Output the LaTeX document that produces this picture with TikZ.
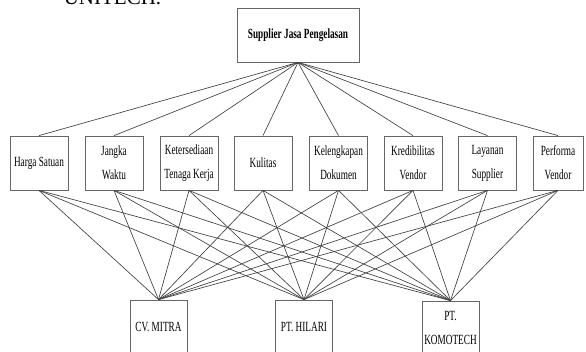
\documentclass[tikz,border=0pt]{standalone}
\usepackage{fontspec}
\setmainfont{Liberation Serif}
\newfontfamily\condfont[FakeStretch=0.66]{Liberation Serif}
\begin{document}
\begin{tikzpicture}[x=1pt,y=-1pt,
  box/.style={draw=black!60, line width=0.8pt, fill=white, align=center,
    inner sep=1pt, minimum height=54pt, minimum width=58pt,
    font=\condfont\fontsize{14}{24}\selectfont},
  link/.style={draw=black!75, line width=0.65pt},
  headtext/.style={font=\fontsize{21}{24}\selectfont, inner sep=0pt, anchor=base}]
\clip (0,0) rectangle (586,352);
\fill[white] (0,0) rectangle (586,352);
\node[headtext] (hdr) at (112.5,4.5) {UNITECH.};
\node[box, minimum width=122pt, font=\condfont\bfseries\fontsize{14}{24}\selectfont] (goal) at (298,35) {Supplier Jasa Pengelasan};
\node[box] (c1) at (39,163) {Harga Satuan};
\node[box] (c2) at (114,163) {Jangka\\Waktu};
\node[box] (c3) at (189,163) {Ketersediaan\\Tenaga Kerja};
\node[box] (c4) at (263,163) {Kulitas};
\node[box] (c5) at (338.5,163) {Kelengkapan\\Dokumen};
\node[box] (c6) at (413,163) {Kredibilitas\\Vendor};
\node[box] (c7) at (487.5,163) {Layanan\\Supplier};
\node[box, minimum width=50pt] (c8) at (558,163) {Performa\\Vendor};
\node[box, minimum width=57pt] (a1) at (158.5,327) {CV. MITRA};
\node[box, minimum width=57pt] (a2) at (304,327) {PT. HILARI};
\node[box, minimum width=57pt] (a3) at (450.5,328) {PT.\\KOMOTECH};
\foreach \c in {c1,c2,c3,c4,c5,c6,c7,c8}{
  \draw[link] (goal.south) -- (\c.north);
  \foreach \a in {a1,a2,a3}{
    \draw[link] (\c.south) -- (\a.north);
  }
}
\end{tikzpicture}
\end{document}
